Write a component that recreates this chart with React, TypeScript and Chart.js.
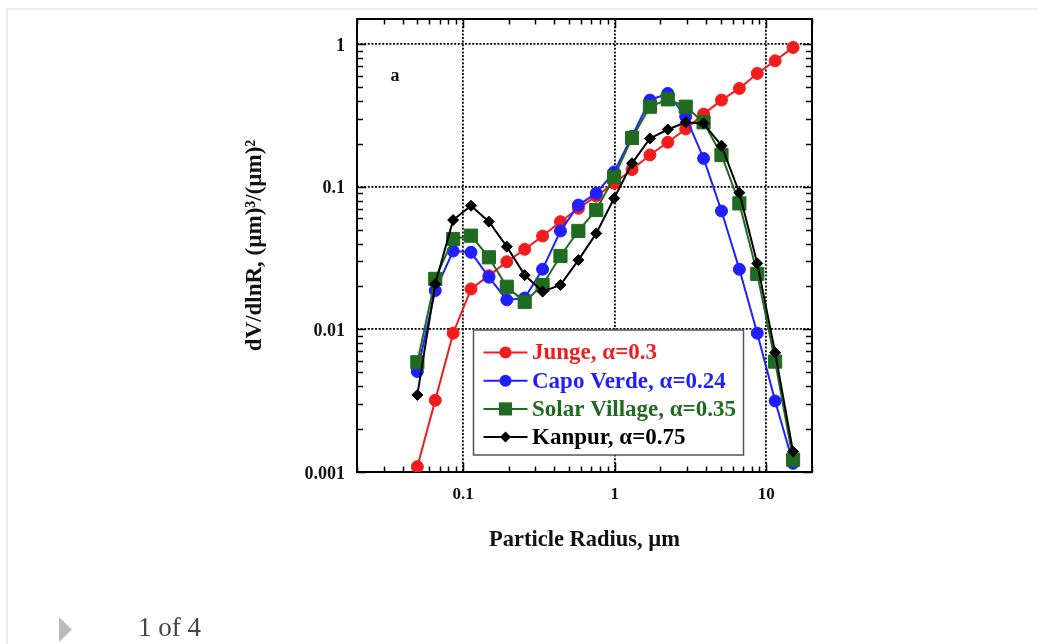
import React, { useEffect, useRef } from "react";
import { Chart, registerables } from "chart.js";

Chart.register(...registerables);

// Particle radius bins (µm), 22 log-spaced bins from 0.05 to 15
const radii = [
  0.05, 0.0656, 0.0861, 0.1129, 0.1482, 0.1944, 0.2551, 0.3347, 0.4391, 0.5762, 0.756,
  0.9919, 1.3014, 1.7075, 2.2404, 2.9396, 3.857, 5.0606, 6.6399, 8.7119, 11.4306, 15.0,
];

// dV/dlnR values for each site
const junge = [
  0.00109, 0.00318, 0.0094, 0.0192, 0.0238, 0.0298, 0.0364, 0.0451, 0.0569, 0.0706, 0.086,
  0.1057, 0.132, 0.167, 0.205, 0.254, 0.323, 0.405, 0.489, 0.623, 0.764, 0.948,
];
const capoVerde = [
  0.00506, 0.0187, 0.0354, 0.0347, 0.0232, 0.0161, 0.0166, 0.0264, 0.049, 0.0744, 0.0899,
  0.127, 0.226, 0.405, 0.451, 0.31, 0.158, 0.0676, 0.0264, 0.0094, 0.00315, 0.00115,
];
const solarVillage = [
  0.00588, 0.0226, 0.043, 0.0454, 0.032, 0.0199, 0.0156, 0.0205, 0.0327, 0.049, 0.0687,
  0.117, 0.22, 0.364, 0.41, 0.364, 0.283, 0.167, 0.0764, 0.0245, 0.00594, 0.00122,
];
const kanpur = [
  0.00347, 0.0208, 0.0584, 0.0736, 0.0569, 0.038, 0.024, 0.0184, 0.0205, 0.0306, 0.0471,
  0.083, 0.146, 0.218, 0.252, 0.283, 0.278, 0.194, 0.0908, 0.029, 0.00687, 0.00139,
];

const seriesNames = [
  "Junge, α=0.3",
  "Capo Verde, α=0.24",
  "Solar Village, α=0.35",
  "Kanpur, α=0.75",
];

const xTickValues = [0.1, 1, 10];
const xTickLabels = ["0.1", "1", "10"];
const yTickValues = [0.001, 0.01, 0.1, 1];
const yTickLabels = ["0.001", "0.01", "0.1", "1"];

const xTitle = "Particle Radius, µm";
const yTitle = "dV/dlnR, (µm)³/(µm)²";
const panelLabel = "a";
const pagerText = "1 of 4";

const SERIF = "'Liberation Serif', 'Times New Roman', serif";

const toPoints = (vals: number[]) => radii.map((r, i) => ({ x: r, y: vals[i] }));

// Solid frame plus inward minor/major tick marks on all four sides
const framePlugin = {
  id: "frameTicks",
  beforeDatasetsDraw(chart: any) {
    const { ctx, chartArea: a, scales } = chart;
    const x = scales.x;
    const y = scales.y;
    ctx.save();
    ctx.strokeStyle = "#000";
    ctx.lineWidth = 1.5;
    ctx.beginPath();
    for (const d of [0.01, 0.1, 1, 10]) {
      for (let k = 1; k <= 9; k++) {
        const v = d * k;
        if (v < x.min * 0.999 || v > x.max * 1.001) continue;
        const px = Math.round(x.getPixelForValue(v)) + 0.5;
        const len = k === 1 ? 9 : 5.5;
        ctx.moveTo(px, a.bottom);
        ctx.lineTo(px, a.bottom - len);
        ctx.moveTo(px, a.top);
        ctx.lineTo(px, a.top + len);
      }
    }
    for (const d of [0.001, 0.01, 0.1, 1]) {
      for (let k = 1; k <= 9; k++) {
        const v = d * k;
        if (v < y.min * 0.999 || v > y.max * 1.001) continue;
        const py = Math.round(y.getPixelForValue(v)) + 0.5;
        const len = k === 1 ? 9 : 6;
        ctx.moveTo(a.left, py);
        ctx.lineTo(a.left + len, py);
        ctx.moveTo(a.right, py);
        ctx.lineTo(a.right - len, py);
      }
    }
    ctx.stroke();
    ctx.lineWidth = 2;
    ctx.strokeRect(a.left, a.top, a.right - a.left, a.bottom - a.top);

    ctx.fillStyle = "#111";
    ctx.font = `bold 18px ${SERIF}`;
    ctx.textAlign = "center";
    ctx.textBaseline = "middle";
    ctx.fillText(panelLabel, a.left + 38, a.top + 57);
    ctx.restore();
  },
};

function drawMarker(ctx: CanvasRenderingContext2D, style: string, r: number, cx: number, cy: number) {
  ctx.beginPath();
  if (style === "rect") {
    const s = Math.SQRT1_2 * r;
    ctx.rect(cx - s, cy - s, 2 * s, 2 * s);
  } else if (style === "rectRot") {
    ctx.moveTo(cx, cy - r);
    ctx.lineTo(cx + r, cy);
    ctx.lineTo(cx, cy + r);
    ctx.lineTo(cx - r, cy);
    ctx.closePath();
  } else {
    ctx.arc(cx, cy, r, 0, Math.PI * 2);
  }
  ctx.fill();
}

// Boxed legend showing line + marker samples, inside the plot area
const legendPlugin = {
  id: "boxLegend",
  afterDatasetsDraw(chart: any) {
    const { ctx, chartArea: a } = chart;
    const left = a.left + 116.5;
    const top = a.top + 311;
    const w = 270;
    const h = 125;
    ctx.save();
    ctx.fillStyle = "#fff";
    ctx.fillRect(left, top, w, h);
    ctx.strokeStyle = "#555";
    ctx.lineWidth = 1.5;
    ctx.strokeRect(left, top, w, h);
    chart.data.datasets.forEach((ds: any, i: number) => {
      const cy = top + 22.5 + i * 28.2;
      ctx.strokeStyle = ds.borderColor;
      ctx.lineWidth = 2;
      ctx.beginPath();
      ctx.moveTo(left + 10, cy);
      ctx.lineTo(left + 54, cy);
      ctx.stroke();
      ctx.fillStyle = ds.pointBackgroundColor;
      drawMarker(ctx, ds.pointStyle, ds.pointRadius, left + 32, cy);
      ctx.fillStyle = ds.borderColor;
      ctx.font = `bold 23px ${SERIF}`;
      ctx.textAlign = "left";
      ctx.textBaseline = "middle";
      ctx.fillText(ds.label, left + 58.5, cy + 1);
    });
    ctx.restore();
  },
};

const RED = "#f21c1c";
const BLUE = "#1f1fff";
const GREEN = "#1f6b1f";
const BLACK = "#000000";

function makeSeries(label: string, vals: number[], color: string, style: string, radius: number, order: number) {
  return {
    label,
    data: toPoints(vals),
    borderColor: color,
    backgroundColor: color,
    pointBackgroundColor: color,
    pointBorderColor: color,
    pointStyle: style,
    pointRadius: radius,
    pointBorderWidth: 1,
    borderWidth: 2,
    tension: 0,
    order,
  };
}

export default function App() {
  const canvasRef = useRef<HTMLCanvasElement | null>(null);

  useEffect(() => {
    if (!canvasRef.current) return;
    const chart = new Chart(canvasRef.current, {
      type: "line",
      data: {
        datasets: [
          makeSeries(seriesNames[0], junge, RED, "circle", 6, 4),
          makeSeries(seriesNames[1], capoVerde, BLUE, "circle", 6, 3),
          makeSeries(seriesNames[2], solarVillage, GREEN, "rect", 9.3, 2),
          makeSeries(seriesNames[3], kanpur, BLACK, "rectRot", 5.5, 1),
        ] as any,
      },
      options: {
        responsive: false,
        animation: false,
        events: [],
        layout: { padding: { left: 230, top: 19, right: 226, bottom: 0 } },
        plugins: {
          legend: { display: false },
          tooltip: { enabled: false },
        },
        scales: {
          x: {
            type: "logarithmic",
            position: "bottom",
            min: 0.02,
            max: 20,
            afterBuildTicks: (s: any) => {
              s.ticks = xTickValues.map((v) => ({ value: v }));
            },
            afterFit: (s: any) => {
              s.height = 172;
              s.paddingLeft = 0;
              s.paddingRight = 0;
            },
            ticks: {
              autoSkip: false,
              maxRotation: 0,
              padding: 12,
              color: "#111",
              font: { family: SERIF, size: 17, weight: "bold" },
              callback: (v: any) => {
                const i = xTickValues.findIndex((t) => Math.abs(t - Number(v)) < t * 1e-6);
                return i >= 0 ? xTickLabels[i] : "";
              },
            },
            grid: { color: "#000", lineWidth: 1.8, drawTicks: false },
            border: { display: false, dash: [2, 1.6] },
            title: {
              display: true,
              text: xTitle,
              color: "#111",
              font: { family: SERIF, size: 22.5, weight: "bold" },
              padding: { top: 0, bottom: 90 },
            },
          },
          y: {
            type: "logarithmic",
            position: "left",
            min: 0.001,
            max: 1.5,
            afterBuildTicks: (s: any) => {
              s.ticks = yTickValues.map((v) => ({ value: v }));
            },
            afterFit: (s: any) => {
              s.width = 127;
              s.paddingTop = 0;
              s.paddingBottom = 0;
            },
            ticks: {
              autoSkip: false,
              padding: 12,
              labelOffset: 2,
              color: "#111",
              font: { family: SERIF, size: 18, weight: "bold" },
              callback: (v: any) => {
                const i = yTickValues.findIndex((t) => Math.abs(t - Number(v)) < t * 1e-6);
                return i >= 0 ? yTickLabels[i] : "";
              },
            },
            grid: { color: "#000", lineWidth: 1.8, drawTicks: false },
            border: { display: false, dash: [2, 1.6] },
            title: {
              display: true,
              text: yTitle,
              color: "#111",
              font: { family: SERIF, size: 23, weight: "bold" },
              padding: { top: 11, bottom: 0 },
            },
          },
        },
      } as any,
      plugins: [framePlugin, legendPlugin],
    });
    return () => chart.destroy();
  }, []);

  return (
    <div style={{ position: "absolute", left: 0, top: 0, width: 1038, height: 644, background: "#fff", overflow: "hidden" }}>
      <div
        style={{
          position: "absolute",
          left: 6,
          top: 8,
          right: 0,
          bottom: 0,
          borderTop: "2px solid #ececec",
          borderLeft: "2px solid #ececec",
        }}
      />
      <canvas
        ref={canvasRef}
        width={1038}
        height={644}
        style={{ position: "absolute", left: 0, top: 0, width: 1038, height: 644, display: "block" }}
      />
      <svg style={{ position: "absolute", left: 0, top: 0 }} width={100} height={644}>
        <polygon points="59,617 59,642 72,629.5" fill="#bbbbbb" />
      </svg>
      <div
        style={{
          position: "absolute",
          left: 138,
          top: 614,
          fontFamily: SERIF,
          fontSize: 27,
          lineHeight: "27px",
          color: "#444",
          whiteSpace: "nowrap",
        }}
      >
        {pagerText}
      </div>
    </div>
  );
}
